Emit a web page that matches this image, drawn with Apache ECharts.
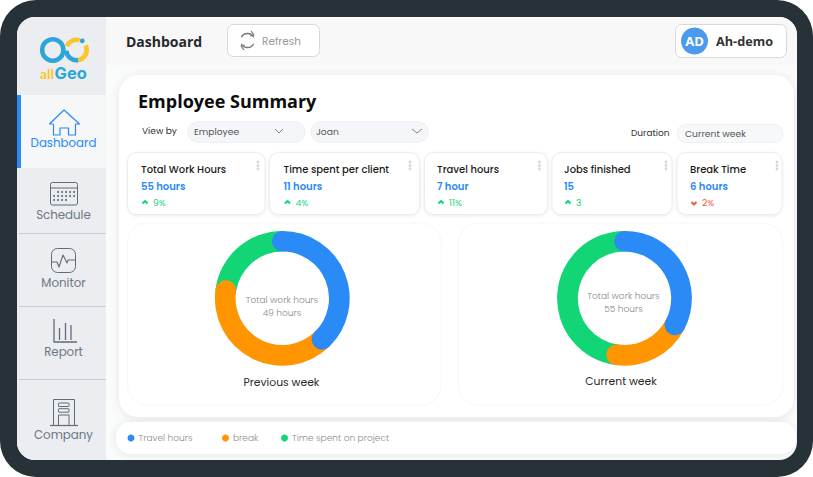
<!DOCTYPE html>
<html>
<head>
<meta charset="utf-8">
<title>Employee Summary</title>
<style>
html,body{margin:0;padding:0;background:#fff;}
#main{width:813px;height:477px;}
</style>
<script src="https://cdn.jsdelivr.net/npm/echarts@6/dist/echarts.min.js"></script>
</head>
<body>
<div id="main"></div>
<script>
// chart data
let weekLabels = ['Previous week', 'Current week'];
let totalHours = [49, 55];
let travelHours = [18.5, 18];
let breakHours = [19.3, 10.7];
let projectHours = [11.2, 26.3];
let legendNames = ['Travel hours', 'break', 'Time spent on project'];
let legendColors = ['#2a8af6', '#ff9500', '#12d676'];

let navLabels = ['Dashboard', 'Schedule', 'Monitor', 'Report', 'Company'];
let cardTitles = ['Total Work Hours', 'Time spent per client', 'Travel hours', 'Jobs finished', 'Break Time'];
let cardValues = ['55 hours', '11 hours', '7 hour', '15', '6 hours'];
let cardDeltas = ['9%', '4%', '11%', '3', '2%'];
let cardUp = [true, true, true, true, false];

let Sketch = (function(){
    let module = {};
    let font = 'Poppins, Inter, sans-serif';

    module.rect = function(x,y,w,h,r,fill,stroke,shadow){
        let style = {fill: fill || 'none', stroke: stroke || 'none', lineWidth: 1};
        if (shadow) {
            style.shadowBlur = shadow;
            style.shadowColor = 'rgba(40,50,60,0.09)';
            style.shadowOffsetY = 1;
        }
        return {type:'rect', shape:{x:x,y:y,width:w,height:h,r:r}, style:style};
    };
    module.text = function(x,y,text,size,color,weight,align,family){
        return {type:'text', style:{
            x:x, y:y, text:text, fill:color,
            font:(weight||400)+' '+size+'px '+(family||font),
            align:align||'left', verticalAlign:'middle'
        }};
    };
    module.line = function(points,color,width){
        return {type:'polyline', shape:{points:points},
            style:{fill:'none', stroke:color, lineWidth:width||1.2, lineJoin:'round'}};
    };
    module.dot = function(x,y,r,color){
        return {type:'circle', shape:{cx:x,cy:y,r:r}, style:{fill:color}};
    };
    module.arc = function(x,y,r,a,b,color,width){
        return {type:'arc', shape:{cx:x,cy:y,r:r,startAngle:a,endAngle:b},
            style:{fill:'none', stroke:color, lineWidth:width, lineCap:'butt'}};
    };
    return module;
})();

function frameGraphics(){
    let g = [];
    g.push(Sketch.rect(0,0,813,477,36,'#263238'));
    g.push(Sketch.rect(17,17,780,443,18,'#fafbfb'));
    g.push(Sketch.rect(106,17,691,48,[0,18,0,0],'#f8f8f8'));
    g.push(Sketch.rect(17,17,89,443,[18,0,0,18],'#ebedf0'));
    g.push(Sketch.rect(17,95,89,73,0,'#f5f7f8'));
    g.push(Sketch.rect(17,95,4,73,0,'#2a8af6'));
    [233.5,306.5,379.5].forEach(function(y){
        g.push(Sketch.line([[19,y],[106,y]],'#c9cdd2',1));
    });
    return g;
}

function logoGraphics(){
    let g = [];
    let pi = Math.PI;
    g.push(Sketch.arc(52.8,50,10.6,0,2*pi,'#2aa7d8',4.6));
    g.push(Sketch.arc(76.5,50,10.2,1.12*pi,1.6*pi,'#f7c72c',4.6));
    g.push(Sketch.arc(76.5,50,10.2,1.85*pi,2.45*pi,'#f7c72c',4.6));
    g.push(Sketch.arc(76.5,50,10.2,0.45*pi,0.98*pi,'#2aa7d8',4.6));
    g.push(Sketch.dot(82.3,40.8,2.4,'#2aa7d8'));
    g.push(Sketch.text(40,73,'all',14,'#f7c72c',700,'left','Lato, sans-serif'));
    g.push(Sketch.text(54.5,73,'Geo',16.5,'#2aa7d8',700,'left','Inter, sans-serif'));
    return g;
}

function navGraphics(){
    let g = [];
    let ink = '#5f6b7a';
    let navY = [142.5,214.5,282.5,351.5,434.5];
    navLabels.forEach(function(name,i){
        g.push(Sketch.text(63.5,navY[i],name,11.8,i==0?'#2a8af6':'#6b7785',400,'center'));
    });
    // dashboard house
    g.push(Sketch.line([[53.5,124],[49.5,124],[64,110],[79.5,124],[75.5,124],[75.5,135],[68.5,135],[68.5,128],[60,128],[60,135],[53.5,135],[53.5,124]],'#2a8af6',1.2));
    // schedule calendar
    g.push(Sketch.rect(50.5,182.5,27,22.5,2,'none',ink));
    g.push(Sketch.line([[50.5,188],[77.5,188]],ink,1));
    [[192,[58,62,66,70,74]],[196,[54,58,62,66,70,74]],[200,[54,58,62,66]]].forEach(function(row){
        row[1].forEach(function(x){ g.push(Sketch.dot(x,row[0],1,ink)); });
    });
    // monitor
    g.push(Sketch.rect(51.5,248.5,24,24,6,'none',ink));
    g.push(Sketch.line([[52,262],[57,262],[59,267],[63,255],[67,263],[68,260],[75,260]],ink,1.1));
    // report
    g.push(Sketch.line([[54,319],[54,342],[77,342]],ink,1.3));
    g.push(Sketch.line([[59.5,328],[59.5,340]],ink,1.3));
    g.push(Sketch.line([[65.5,323],[65.5,340]],ink,1.3));
    g.push(Sketch.line([[71,325],[71,340]],ink,1.3));
    // company
    g.push(Sketch.line([[53.5,425],[53.5,399.5],[74.5,399.5],[74.5,425]],ink,1));
    g.push(Sketch.line([[50,425.5],[78,425.5]],ink,1.2));
    g.push(Sketch.rect(58.5,403,10.5,3.5,0.5,'none',ink));
    g.push(Sketch.rect(58.5,408.7,10.5,3.5,0.5,'none',ink));
    g.push(Sketch.line([[58.5,425],[58.5,415],[69,415],[69,425]],ink,1));
    return g;
}

function headerGraphics(){
    let g = [];
    let pi = Math.PI;
    g.push(Sketch.text(126,41,'Dashboard',14,'#26282b',700,'left','"Open Sans", sans-serif'));
    g.push(Sketch.rect(227.5,24.5,92,32,6,'#fff','#d8d8d8'));
    g.push(Sketch.arc(247.5,40.5,7,1.15*pi,1.85*pi,'#777',1.3));
    g.push(Sketch.arc(247.5,40.5,7,0.15*pi,0.85*pi,'#777',1.3));
    g.push(Sketch.line([[251,31],[254,35],[250,36]],'#777',1.2));
    g.push(Sketch.line([[244,50],[241,46],[245,45]],'#777',1.2));
    g.push(Sketch.text(262,41,'Refresh',10.5,'#9a9a9a'));
    g.push(Sketch.rect(675.5,24.5,111,33,6,'#fff','#d8d8d8'));
    g.push(Sketch.dot(694.5,41,13.5,'#4a9bef'));
    g.push(Sketch.text(694.5,41,'AD',13,'#fff',700,'center','"Open Sans", sans-serif'));
    g.push(Sketch.text(716,41,'Ah-demo',12.7,'#333',700,'left','"Open Sans", sans-serif'));
    return g;
}

function filterGraphics(){
    let g = [];
    g.push(Sketch.rect(119,75,675,342,20,'#fff',null,10));
    g.push(Sketch.text(138,101,'Employee Summary',18,'#0c0c0c',700,'left','"Open Sans", sans-serif'));
    g.push(Sketch.text(142,131,'View by',9,'#333'));
    g.push(Sketch.rect(188,121.5,117,21,10.5,'#f4f6f9','#eceff3'));
    g.push(Sketch.text(194,131,'Employee',9.2,'#555'));
    g.push(Sketch.line([[275,129],[279,133],[283,129]],'#777',0.9));
    g.push(Sketch.rect(311,121.5,117,21,10.5,'#f4f6f9','#eceff3'));
    g.push(Sketch.text(316,131,'Joan',9.2,'#555'));
    g.push(Sketch.line([[412,129],[417,133],[422,129]],'#777',0.9));
    g.push(Sketch.text(631,133,'Duration',9,'#333'));
    g.push(Sketch.rect(677,124.5,106,18,9,'#f6f8fa','#eef0f3'));
    g.push(Sketch.text(685,133,'Current week',9.2,'#555'));
    return g;
}

function cardGraphics(){
    let g = [];
    let cardX = [127.5,269.5,424.5,552,677];
    let cardW = [137.5,150,123,120,105];
    let textX = [141,283.5,437,564,690];
    let kebabX = [258,410,539.5,666,777];
    cardTitles.forEach(function(title,i){
        g.push(Sketch.rect(cardX[i],152.5,cardW[i],62,9,'#fff','#eaecee',3));
        g.push(Sketch.text(textX[i],169.5,title,10,'#1c1c1c',500));
        g.push(Sketch.text(textX[i],186.5,cardValues[i],10,'#2a8af6',600));
        let color = cardUp[i] ? '#12d676' : '#f4553a';
        let ax = textX[i]+4;
        let arrow = cardUp[i] ? [[ax-2.5,203.5],[ax,201],[ax+2.5,203.5]] : [[ax-2.5,202],[ax,204.5],[ax+2.5,202]];
        g.push(Sketch.line(arrow,color,2));
        g.push(Sketch.text(textX[i]+12,202,cardDeltas[i],9.2,color));
        [162,165.5,169].forEach(function(y){ g.push(Sketch.dot(kebabX[i],y,1.4,'#d3d7dc')); });
    });
    return g;
}

function donutGraphics(){
    let g = [];
    let panelX = [127.5,458];
    let panelW = [313.5,325];
    let centerX = [282,623.5];
    let labelX = [281.5,621];
    let labelY = [382,381];
    let innerY = [299.5,295.5];
    weekLabels.forEach(function(name,i){
        g.push(Sketch.rect(panelX[i],223,panelW[i],182,20,'#fff','#f6f7f7'));
        g.push(Sketch.text(centerX[i],innerY[i],'Total work hours',9,'#8a8a8a',300,'center'));
        g.push(Sketch.text(centerX[i],innerY[i]+13,totalHours[i]+' hours',9,'#8a8a8a',300,'center'));
        g.push(Sketch.text(labelX[i],labelY[i],name,10.8,'#2a2a2a',400,'center'));
    });
    return g;
}

function legendGraphics(){
    let g = [];
    let dotX = [131,225.5,284.5];
    g.push(Sketch.rect(116,422,680,32,15,'#fff',null,8));
    legendNames.forEach(function(name,i){
        g.push(Sketch.dot(dotX[i],438,3.5,legendColors[i]));
        g.push(Sketch.text(dotX[i]+7.5,438,name,9,'#8c8c8c',300));
    });
    return g;
}

// one stacked ring per week, rounded ends overlap through z
function ringSeries(){
    let series = [];
    weekLabels.forEach(function(week,i){
        [travelHours,breakHours,projectHours].forEach(function(values,k){
            series.push({
                name: legendNames[k],
                type: 'bar',
                coordinateSystem: 'polar',
                polarIndex: i,
                stack: week,
                roundCap: true,
                barCategoryGap: 0,
                z: 6-k,
                silent: true,
                itemStyle: {color: legendColors[k]},
                data: [values[i]]
            });
        });
    });
    return series;
}

let chart = echarts.init(document.getElementById('main'), null, {renderer:'svg'});
chart.setOption({
    animation: false,
    polar: [
        {center:[282.3,298.3], radius:[46.7,67.4]},
        {center:[624.5,298.3], radius:[46.7,67.4]}
    ],
    angleAxis: totalHours.map(function(total,i){
        return {polarIndex:i, type:'value', min:0, max:total, startAngle:90, clockwise:true, show:false};
    }),
    radiusAxis: totalHours.map(function(total,i){
        return {polarIndex:i, type:'category', data:['hours'], show:false};
    }),
    graphic: [].concat(
        frameGraphics(), logoGraphics(), navGraphics(), headerGraphics(),
        filterGraphics(), cardGraphics(), donutGraphics(), legendGraphics()
    ),
    series: ringSeries()
});
</script>
</body>
</html>
